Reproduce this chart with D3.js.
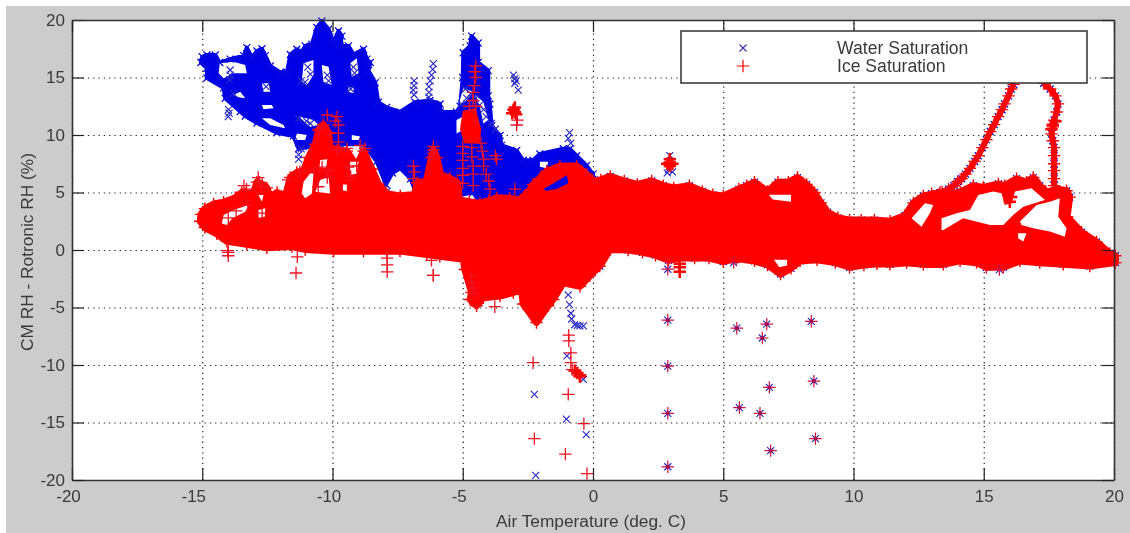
<!DOCTYPE html>
<html>
<head>
<meta charset="utf-8">
<script src="https://cdn.jsdelivr.net/npm/d3@7"></script>
<style>
html,body{margin:0;padding:0;background:#fff;overflow:hidden}
svg{display:block;filter:blur(0.45px)}
text{font-family:"Liberation Sans",Arial,sans-serif;fill:#3a3a3a}
</style>
</head>
<body>
<svg id="chart" width="1130" height="533"></svg>
<script>
// everything, in data units (deg C, % RH)
var xTicks = [-20,-15,-10,-5,0,5,10,15,20];
var yTicks = [-20,-15,-10,-5,0,5,10,15,20];
var xLabel = "Air Temperature (deg. C)";
var yLabel = "CM RH - Rotronic RH (%)";
var legendLabels = ["Water Saturation","Ice Saturation"];

// dense part of the water cloud, marker centres round the edge
var waterCloud = [[-15,16.8],[-14.82,16.95],[-14.5,16.95],[-14.33,16.3],[-13.93,16.6],[-13.41,16.9],[-13.29,17.6],[-13.09,16.75],[-12.9,17.3],[-12.71,17.5],[-12.58,16.9],[-12.39,16],[-12,15.45],[-11.75,15.45],[-11.62,17],[-11.37,17.45],[-11.18,17.2],[-11.05,17.75],[-10.79,17.9],[-10.6,19.35],[-10.41,19.9],[-10.15,19.2],[-9.96,18.05],[-9.77,19.05],[-9.64,18.6],[-9.7,17.75],[-9.39,17.75],[-9.19,17],[-8.81,17.45],[-8.68,16.6],[-8.55,16.3],[-8.62,15.6],[-8.36,14.55],[-8.24,12.85],[-7.92,12.4],[-7.41,12],[-6.83,12.85],[-6.26,13],[-5.87,12.7],[-5.87,12],[-5.24,12],[-5.1,12.5],[-5,15],[-4.98,17.15],[-4.72,17.75],[-4.66,18.6],[-4.41,18],[-4.41,16.3],[-4.02,15.6],[-4.02,13.4],[-3.96,12.7],[-3.89,10.8],[-3.57,9.95],[-3.51,9.1],[-2.93,8.65],[-2.68,7.8],[-2.3,7.8],[-2.04,8.35],[-1.14,8.8],[-0.89,8.8],[-0.63,8.2],[-0.25,7.35],[0,6.6],[0,5],[-1,4.5],[-3,4.2],[-4.4,4.3],[-4.6,5],[-5.1,4.8],[-5.3,4.5],[-6.8,5],[-7,6.2],[-7.4,7.1],[-7.7,6.7],[-7.95,5.7],[-8.3,7.7],[-8.8,9.2],[-9.7,9.2],[-10.2,8],[-10.9,9],[-11.3,8.8],[-11.5,9.9],[-12.14,10.2],[-12.9,11.05],[-13.35,11.65],[-13.54,12.05],[-14.12,13.2],[-14.18,14.1],[-14.82,14.95],[-14.82,15.8],[-15.05,16.3]];
var waterHoles = [
  [[-14.33,16.23],[-13.8,16.38],[-13.35,16.09],[-13.29,15.36],[-13.8,15.36],[-14.18,14.93],[-14.37,15.36]],
  [[-12.71,14.49],[-12.45,14.49],[-12.39,13.77],[-12.65,13.77]],
  [[-13.8,13.48],[-13.54,13.77],[-13.35,13.19],[-13.6,13.28]],
  [[-12.71,12.61],[-12.33,12.61],[-12.26,12.32],[-12.65,12.23]],
  [[-12.71,11.45],[-12.39,11.45],[-11.88,10.87],[-11.82,10.58],[-12.39,10.87]],
  [[-11.11,16.23],[-10.73,16.52],[-10.73,15.22],[-10.98,14.35],[-11.18,14.64]],
  [[-10.41,16.09],[-10.15,15.94],[-10.03,14.35],[-10.35,14.64]],
  [[-9.32,16.23],[-9.07,16.67],[-9,15.36],[-9.26,15.07]],
  [[-11.3,11.6],[-10.73,11.3],[-10.53,10.87],[-10.86,10.72]],
  [[-11.37,10.14],[-10.99,10],[-11.05,9.57],[-11.43,9.57]],
  [[-9.26,10],[-8.94,9.86],[-9,9.57],[-9.26,9.57]],
  [[-9.39,14.2],[-9.19,14.06],[-9.19,13.62],[-9.39,13.77]],
  [[-5.24,11.3],[-4.98,11.6],[-4.98,10.43],[-5.24,10.14]],
  [[-4.53,13.48],[-4.21,12.9],[-4.02,11.3],[-4.21,11],[-4.34,12.46]],
  [[-4.98,14.06],[-4.6,13.77],[-4.85,13.04],[-5.11,12.46],[-5.11,13.04]],
  [[-2.04,7.68],[-1.72,7.68],[-1.78,7.1],[-2.04,7.25]]
];
// small sliver of water that shows through the ice near -1 deg
var waterSliver = [[-1.9,5.3],[-1.45,5.9],[-1,6.5],[-0.95,5.8],[-1.4,5.3],[-1.8,5.15]];
// loose water markers
var waterLoose = [[-13.93,15.65],[-13.93,15.2],[-13.95,14.8],[-13.99,12.2],[-13.97,11.9],[-14,11.6],
  [-6.87,14.7],[-6.87,14.3],[-6.9,13.9],[-6.87,13.5],[-6.13,16.2],[-6.15,15.7],[-6.2,15.2],[-6.25,14.7],[-6.3,14.2],[-6.3,13.7],[-6.3,13.3],
  [-3.05,15.2],[-3,14.9],[-2.95,14.7],[-3,14.5],[-2.87,13.9],[-4.9,14],[-4.7,13.6],[-4.85,13.2],[-5.05,12.7],[-4.5,13.2],[-4.35,12.6],[-4.2,12.2],[-4.1,11.6],[-3.9,11],[-3.75,10.5],
  [2.95,8.2],[2.9,7],[2.85,6.7],[3.05,6.8],[-11.3,8.3],[-11.2,8.8],[-11.3,7.9],[-0.9,10.2],[-0.95,9.7],[-0.85,9.3],
  [-10.95,15.9],[-10.85,15.3],[-11.05,14.6],[-11.2,14.7],[-10.2,15.2],[-10.15,14.7],[-9.2,15.9],[-9.15,15.4],[-11.3,11.4],[-11,11.2],[-10.85,11],[-9.3,14],[-12.55,14.2],[-13.8,13.6],
  [-8,5.4],[-7.9,5.1],[-0.95,-3.9],[-0.9,-4.75],[-0.85,-5.5],[-0.82,-6],[-0.7,-6.5],[-0.6,-6.55],[-0.5,-6.6],[-0.37,-6.6],[-1,-9.2],[-0.37,-11.25],[-2.25,-12.55],[-2.2,-19.6],[-1.02,-14.7],[-0.26,-16.05]];

// dense part of the ice cloud
var iceCloud = [[-15.05,3.1],[-14.9,3.6],[-14.56,4],[-14.18,4.15],[-13.73,4.55],[-13.48,5],[-13.35,4.9],[-13.03,5],[-12.9,5.9],[-12.7,5.7],[-12.52,5.4],[-12.39,4.6],[-12.13,5],[-11.8,4.75],[-11.62,6.3],[-11.37,6.75],[-11.11,6.9],[-10.92,8.05],[-10.66,9.2],[-10.54,10.4],[-10.35,10.9],[-10.15,10.2],[-10.09,8.9],[-9.75,8.7],[-9.45,8.6],[-9.07,7.3],[-8.81,8.6],[-8.49,7.05],[-8.24,5.75],[-7.92,4.9],[-7.4,4.7],[-6.85,4.85],[-6.75,5.85],[-6.4,5.95],[-6.2,8.05],[-6.13,8.7],[-6,8.05],[-5.85,6.55],[-5.5,6.25],[-5.2,5.85],[-5.13,4.35],[-4.75,4.2],[-4.34,4.05],[-4,4.3],[-3.7,4.55],[-3.2,4.5],[-2.8,4.35],[-2.42,5.25],[-2.3,5.7],[-2.05,6.2],[-1.78,6.85],[-1.27,7.3],[-0.63,7.3],[-0.25,6.6],[0,6],[0.3,6.1],[0.66,6.4],[1.2,6],[1.7,5.7],[2.25,6],[2.7,5.6],[3.1,5.4],[3.7,5.6],[4.2,5.1],[4.6,4.8],[5,4.7],[5.6,5.3],[5.9,5.6],[6.2,5.9],[6.7,5.1],[7.1,5.9],[7.5,5.9],[7.85,6.3],[8.2,5.7],[8.5,5],[8.75,4.1],[9,3.3],[9.4,2.8],[9.85,2.6],[10.3,2.6],[10.8,2.6],[11.4,2.5],[11.98,3],[12.3,4.1],[12.68,4.7],[13.32,5],[13.8,4.9],[14.1,5.05],[14.6,5.6],[14.98,5.45],[15.56,5.75],[15.81,5.6],[16.26,6.2],[16.64,5.9],[16.9,6.3],[17.15,5.6],[17.4,5],[17.79,5.3],[18.18,5.15],[18.3,4.6],[18.2,2.9],[18.75,1.55],[19.33,0.7],[19.84,-0.3],[20.05,-0.5],[20.05,-1.1],[19.07,-1.4],[18.05,-1.25],[17.15,-1.1],[16.39,-0.95],[15.75,-1.5],[15.1,-1.5],[14.72,-1.1],[14.09,-0.95],[13.45,-1.25],[12.68,-1.25],[12.04,-1.1],[11.4,-1.25],[10.9,-1.2],[10.4,-1.3],[9.85,-1.5],[9.3,-1.1],[8.6,-0.85],[7.95,-0.95],[7.6,-1.6],[7.2,-2.1],[6.7,-1.3],[6.2,-0.95],[5.5,-0.75],[5,-1],[4.45,-0.7],[3.9,-0.7],[3.35,-0.7],[2.9,-0.9],[2.4,-0.45],[1.9,-0.2],[1.35,0],[0.66,0.05],[0.26,-1.4],[-0.12,-2.25],[-0.5,-3.15],[-1.14,-2.85],[-1.53,-4.3],[-1.72,-4.85],[-2.17,-6.3],[-2.68,-4.7],[-2.74,-3.45],[-3.06,-3.7],[-3.57,-4],[-4.21,-4.15],[-4.47,-4.85],[-4.72,-4.3],[-4.66,-3.7],[-4.92,-1.7],[-4.98,-0.8],[-5.88,-0.55],[-6.38,-0.4],[-7.41,-0.1],[-7.92,-0.1],[-8.81,-0.1],[-9.96,-0.1],[-11.05,0.05],[-11.56,0.3],[-12.52,0.2],[-13.29,0.5],[-14.05,0.75],[-14.44,1.4],[-14.9,1.95],[-15.08,2.5]];
var iceHoles = [
  [[-14.25,2.31],[-14.18,3.04],[-13.8,3.47],[-13.22,3.91],[-13.35,3.33],[-13.86,2.75],[-14.05,2.17]],
  [[-12.84,3.47],[-12.58,3.62],[-12.6,2.9],[-12.84,2.8]],
  [[-12.84,4.78],[-12.65,4.78],[-12.71,4.2]],
  [[-11.11,5.94],[-10.86,6.66],[-10.73,6.66],[-10.79,4.92],[-11.05,4.49],[-11.18,4.92]],
  [[-10.47,6.08],[-10.15,6.37],[-10.09,4.92],[-10.66,5.07]],
  [[-10.47,7.82],[-10.2,7.9],[-10.25,7.1],[-10.5,7.2]],
  [[-9.32,7.68],[-9,7.68],[-9.07,6.66],[-9.32,6.52]],
  [[-9.6,5.7],[-9.45,5.7],[-9.45,5.1],[-9.6,5.2]],
  [[6.75,4.8],[7.6,4.8],[7.6,4.2],[6.9,4.4]],
  [[6.95,-0.85],[7.45,-0.85],[7.45,-1.35],[7.15,-1.5]],
  [[12.23,2.76],[12.74,4.06],[13.06,3.92],[12.93,3.19],[12.61,2.03]],
  [[13.38,1.74],[13.38,2.76],[13.96,3.19],[14.47,3.48],[14.79,4.79],[15.36,5.08],[15.68,4.93],[15.81,3.92],[16.07,4.06],[16.2,5.08],[16.83,5.37],[17.35,4.35],[16.52,3.77],[16.13,3.05],[15.75,2.18],[15.24,2.18],[14.21,2.76],[13.45,1.74]],
  [[16.39,2.47],[17.03,3.92],[17.54,4.2],[17.92,4.5],[17.86,2.9],[18.18,1.9],[18.11,1.16],[17.54,1.6],[16.9,1.9],[16.45,2.18]],
  [[16.32,1.45],[16.64,1.45],[16.52,0.73],[16.32,1.02]]
];
// solid part of the ice spike at -4.6 deg
var iceSpike = [[-4.95,12],[-4.55,12.2],[-4.35,10.5],[-4.4,9.4],[-4.9,9.4],[-5.05,10.5]];
// the two arms that climb out of the cloud towards the legend
var iceStrandUp = [[13,4.9],[13.4,5.05],[13.65,5.3],[13.85,5.6],[14,5.95],[14.15,6.2],[14.3,6.6],[14.47,7.1],[14.65,7.7],[14.79,8.2],[14.95,8.9],[15.1,9.6],[15.25,10.3],[15.4,10.9],[15.55,11.6],[15.7,12.2],[15.8,12.7],[15.95,13.4],[16.05,14],[16.15,14.4]];
var iceStrandDown = [[17.3,14.5],[17.55,14],[17.75,13.4],[17.85,12.7],[17.8,12],[17.7,11.3],[17.65,10.7],[17.6,10.1],[17.65,9.5],[17.7,8.9],[17.7,8.2],[17.7,7.5],[17.7,6.9],[17.7,6.2],[17.7,5.6]];
var iceBlobs = [[2.95,7.6],[2.95,7.3],[2.95,7.9],[2.85,7.5],[3.05,7.5],[-3,12],[-3.05,12.2],[-2.95,11.8],[-3.1,11.9],[-3,12.4],[-0.6,-10.7],[-0.5,-10.9],[-0.7,-10.5],[-0.5,-11],[16.05,4.6],[16,4.2],[17.65,10.9],[17.75,11.2],[17.6,10.5],[3.33,-1.5],[3.33,-1.9],[3.33,-1.2]];
// loose ice markers
var iceLoose = [[-14,-0.2],[-14,-0.5],[-14.02,-0.05],[-11.35,-0.6],[-11.4,-2],[-7.9,-0.7],[-7.9,-1.3],[-7.9,-1.9],[-6.2,-0.9],[-6.13,-2.2],[-2.93,10.87],[-2.9,11.3],
  [-4.5,16],[-4.55,15.5],[-4.5,15],[-4.55,14.3],[-4.6,13.7],[-4.6,13],[-4.75,12.5],[-4.5,12.5],
  [-5,9],[-5,8.4],[-5,7.8],[-5,7.1],[-5,6.5],[-5,5.8],[-4.65,8.9],[-4.65,8.1],[-4.6,7.3],[-4.6,6.6],[-4.6,5.6],[-4.3,9.3],[-4.25,8.6],[-4.2,7.9],[-4.2,7.3],[-4.1,6.6],[-4,6],[-3.95,5.3],[-3.7,7.9],[-3.75,8.2],
  [-10.2,11.74],[-9.83,11.6],[-9.77,10.87],[-9.77,10.15],[-9.77,9.4],[-9.83,8.7],[-9.45,8.84],[-8.94,9.1],[-8.75,8.84],[-9.9,11.2],[-10.5,10.5],
  [-6.13,9],[-6.13,8.4],[-6.9,7.3],[-6.85,6.8],[-6.9,6.2],[-13.4,5.6],[-13.3,5.3],[-12.85,6.3],[-12.8,5.9],[-12.7,5.5],[-11.7,6.1],[-3,5.3],
  [-11.25,6.8],[-10.7,6.9],[-10.4,7.2],[-10.1,6.9],[-10.2,6.3],[-10.55,5.5],[-9.4,7.2],[-9.3,6.4],[-13.25,3.9],[-13.7,3.4],[-14,2.8],[-12.7,3.2],
  [-6.13,-2.2],[-3.77,-4.93],[-4.66,-2.3],[-4.66,-2.8],[-4.6,-3.3],[-4.55,-3.8],
  [-0.93,-7.4],[-0.93,-7.9],[-0.85,-8.95],[-0.85,-9.8],[-0.8,-10.4],[-0.95,-12.55],[-1.06,-17.75],[-0.35,-15.1],[-0.23,-19.45],[-2.3,-9.8],[-2.25,-16.4]];
// the points where both series sit together
var bothLoose = [[2.87,-1.67],[2.87,-6.1],[2.87,-10.1],[2.87,-14.2],[2.87,-18.85],[5.52,-6.8],[6.67,-6.45],[6.5,-7.65],[8.38,-6.2],[8.48,-11.4],[6.77,-11.95],[5.62,-13.7],[6.41,-14.2],[8.54,-16.4],[6.82,-17.45],[15.6,-1.7],[5.4,-1.1]];

var left = 72, right = 1114, top_ = 20, bottom = 480;

var svg = d3.select("#chart");
svg.append("rect").attr("x",6).attr("y",6).attr("width",1124).attr("height",527).attr("fill","#cccccc");
svg.append("rect").attr("x",left).attr("y",top_).attr("width",right-left).attr("height",bottom-top_).attr("fill","#fff");

var x = d3.scaleLinear().domain([-20,20]).range([left,right]);
var y = d3.scaleLinear().domain([-20,20]).range([bottom,top_]);

// Grid
var gridX = svg.append("g").attr("transform","translate(0,"+bottom+")")
	.call(d3.axisBottom(x).tickValues(xTicks).tickSize(-(bottom-top_)).tickFormat(""));
var gridY = svg.append("g").attr("transform","translate("+left+",0)")
	.call(d3.axisLeft(y).tickValues(yTicks).tickSize(-(right-left)).tickFormat(""));
[gridX,gridY].forEach(function(g){
	g.select(".domain").remove();
	g.selectAll("line").attr("stroke","#222").attr("stroke-width",1.2).attr("stroke-dasharray","1.3 4");
});

var plot = svg.append("g");
var line = d3.line().x(function(d){return x(d[0])}).y(function(d){return y(d[1])});

function closed(list){ return list.map(function(p){return line(p)+"Z"}).join(""); }

var timesMark = {draw:function(c,s){ c.moveTo(-s,-s); c.lineTo(s,s); c.moveTo(-s,s); c.lineTo(s,-s); }};
var plusMark = {draw:function(c,s){ c.moveTo(-s,0); c.lineTo(s,0); c.moveTo(0,-s); c.lineTo(0,s); }};
var timesPath = d3.symbol().type(timesMark).size(3.5)();
var plusPath = d3.symbol().type(plusMark).size(6.2)();

function markers(data,path,color,sw){
	plot.append("g").selectAll("path").data(data).enter().append("path")
		.attr("d",path)
		.attr("transform",function(d){return "translate("+x(d[0])+","+y(d[1])+")"})
		.attr("fill","none").attr("stroke",color).attr("stroke-width",sw);
}

// cloud body: the marker arms make it fatter than the centres, so it gets a stroke,
// and the gaps are painted back in white
function cloud(outer,holes,color,sw){
	plot.append("path").attr("d",closed([outer])).attr("fill",color)
		.attr("stroke",color).attr("stroke-width",sw).attr("stroke-linejoin","round");
	plot.append("path").attr("d",closed(holes)).attr("fill","#fff");
}

var blue = "#0a0ae0", red = "#ff0000";
var strands = [iceStrandUp,iceStrandDown];
var warmEdge = iceCloud.filter(function(d){return d[0]>0});

// Water series
cloud(waterCloud,waterHoles,"#0000e6",4);
markers(waterCloud,timesPath,blue,1.3);
markers(waterLoose,timesPath,"#2a2ac8",1.2);
markers(bothLoose,timesPath,"#2a2ac0",1.2);
markers(warmEdge,timesPath,blue,1.2);
strands.forEach(function(s){ markers(s,timesPath,blue,1.3); });

// Ice series
cloud(iceCloud,iceHoles,red,7);
plot.append("path").attr("d",closed([iceSpike])).attr("fill",red).attr("stroke",red).attr("stroke-width",3);
strands.forEach(function(s){
	plot.append("path").attr("d",line(s)).attr("fill","none").attr("stroke",red).attr("stroke-width",6).attr("stroke-linejoin","round");
	markers(s,plusPath,red,1.3);
});
plot.append("path").attr("d",closed([waterSliver])).attr("fill","#0000e6");
markers(iceCloud,plusPath,red,1.4);
markers(iceBlobs,plusPath,red,2.5);
markers(iceLoose,plusPath,"#ee1122",1.3);
markers(bothLoose,plusPath,"#d01040",1.2);
plot.append("g").selectAll("circle").data(bothLoose.slice(1,15)).enter().append("circle")
	.attr("cx",function(d){return x(d[0])}).attr("cy",function(d){return y(d[1])}).attr("r",2).attr("fill","#a00850");

// Axes, MATLAB style ticks on all sides
function styleAxis(g){
	g.selectAll(".domain").attr("stroke","#333").attr("stroke-width",1.6);
	g.selectAll(".tick line").attr("stroke","#222").attr("stroke-width",1.2);
	g.selectAll(".tick text").attr("font-size",17).attr("fill","#3a3a3a")
		.style("font-family",'"Liberation Sans",Arial,sans-serif');
}
var tickLen = 12;
var axB = svg.append("g").attr("transform","translate(0,"+bottom+")")
	.call(d3.axisBottom(x).tickValues(xTicks).tickSizeInner(-tickLen).tickSizeOuter(0).tickPadding(10).tickFormat(function(d){return String(d)}));
var axL = svg.append("g").attr("transform","translate("+left+",0)")
	.call(d3.axisLeft(y).tickValues(yTicks).tickSizeInner(-tickLen).tickSizeOuter(0).tickPadding(7).tickFormat(function(d){return String(d)}));
var axT = svg.append("g").attr("transform","translate(0,"+top_+")")
	.call(d3.axisTop(x).tickValues(xTicks).tickSizeInner(-tickLen).tickSizeOuter(0).tickFormat(""));
var axR = svg.append("g").attr("transform","translate("+right+",0)")
	.call(d3.axisRight(y).tickValues(yTicks).tickSizeInner(-tickLen).tickSizeOuter(0).tickFormat(""));
[axB,axL,axT,axR].forEach(styleAxis);
// negative labels hang to the left of their tick in the original
axB.selectAll(".tick text").attr("dx",function(d){return d==-15?-9:(d<0?-4:0)});

svg.append("text").attr("x",591).attr("y",527).attr("text-anchor","middle").attr("font-size",17.3).text(xLabel);
svg.append("text").attr("transform","translate(33,252) rotate(-90)").attr("text-anchor","middle").attr("font-size",17.3).text(yLabel);

// Legend
var lg = svg.append("g");
lg.append("rect").attr("x",681).attr("y",31).attr("width",406).attr("height",52).attr("fill","#fff").attr("stroke","#333").attr("stroke-width",1.5);
lg.append("path").attr("d",timesPath).attr("transform","translate(743,48)").attr("fill","none").attr("stroke","#3030b0").attr("stroke-width",1.1);
lg.append("path").attr("d",plusPath).attr("transform","translate(743,66)").attr("fill","none").attr("stroke",red).attr("stroke-width",1.2);
lg.selectAll("text").data(legendLabels).enter().append("text")
	.attr("x",837).attr("y",function(d,i){return 54+i*18})
	.attr("font-size",17.6).text(function(d){return d});
</script>
</body>
</html>
